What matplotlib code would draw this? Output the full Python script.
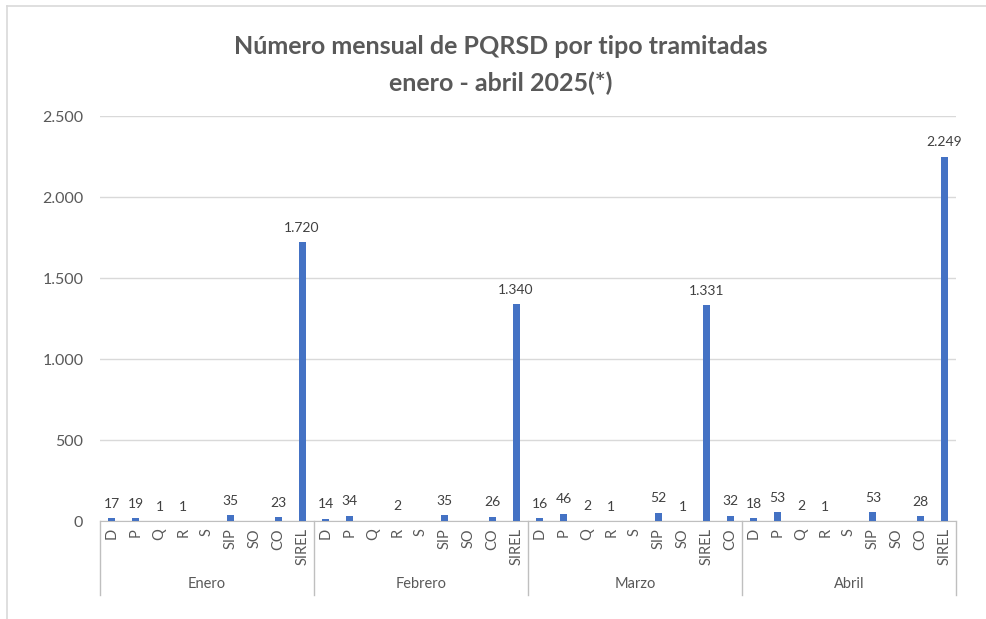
import matplotlib.pyplot as plt
from matplotlib.lines import Line2D
import numpy as np

# Datos (enero - abril 2025)
meses = ['Enero', 'Febrero', 'Marzo', 'Abril']
tipos_enero = ['D', 'P', 'Q', 'R', 'S', 'SIP', 'SO', 'CO', 'SIREL']
tipos_febrero = ['D', 'P', 'Q', 'R', 'S', 'SIP', 'SO', 'CO', 'SIREL']
tipos_marzo = ['D', 'P', 'Q', 'R', 'S', 'SIP', 'SO', 'SIREL', 'CO']
tipos_abril = ['D', 'P', 'Q', 'R', 'S', 'SIP', 'SO', 'CO', 'SIREL']
enero = [17, 19, 1, 1, 0, 35, 0, 23, 1720]
febrero = [14, 34, 0, 2, 0, 35, 0, 26, 1340]
marzo = [16, 46, 2, 1, 0, 52, 1, 1331, 32]
abril = [18, 53, 2, 1, 0, 53, 0, 28, 2249]

plt.rcParams['font.family'] = ['Lato', 'DejaVu Sans']

tipos = tipos_enero + tipos_febrero + tipos_marzo + tipos_abril
valores = enero + febrero + marzo + abril
grupos = [len(tipos_enero), len(tipos_febrero), len(tipos_marzo), len(tipos_abril)]
x = np.arange(len(tipos))

gris = '#595959'
linea = '#d9d9d9'

fig = plt.figure(figsize=(9.87, 6.19), dpi=100)
ax = fig.add_axes([0.1013, 0.1583, 0.8673, 0.6543])

ax.bar(x, valores, width=0.3, color='#4472C4', zorder=3)

# Etiquetas de datos (sin etiqueta para los ceros)
for xi, v in zip(x, valores):
    if v > 0:
        ax.annotate(f'{v:,}'.replace(',', '.'), (xi, v), xytext=(0, 6),
                    textcoords='offset points', ha='center', va='bottom',
                    fontsize=10, color='#404040')

ax.set_ylim(0, 2500)
ax.set_xlim(-0.5, len(tipos) - 0.5)
ax.set_yticks(range(0, 2501, 500))
ax.set_yticklabels([f'{t:,}'.replace(',', '.') for t in range(0, 2501, 500)])
ax.set_xticks(x)
ax.set_xticklabels(tipos, rotation=90)
ax.tick_params(axis='x', length=0, pad=5, labelsize=10.5, labelcolor=gris)
ax.tick_params(axis='y', length=0, pad=12, labelsize=11.5, labelcolor=gris)

ax.grid(axis='y', color=linea, linewidth=1, zorder=0)
for s in ['top', 'right', 'left']:
    ax.spines[s].set_visible(False)
ax.spines['bottom'].set_color('#bfbfbf')

# Separadores y nombres de mes
trans = ax.get_xaxis_transform()
inicio = 0
bordes = [-0.5]
for mes, n in zip(meses, grupos):
    centro = inicio + (n - 1) / 2
    ax.text(centro, -0.155, mes, transform=trans, ha='center', va='center',
            fontsize=10.5, color=gris)
    inicio += n
    bordes.append(inicio - 0.5)
for b in bordes:
    ax.plot([b, b], [0, -0.183], transform=trans, color='#bfbfbf',
            linewidth=1, clip_on=False)

fig.text(0.507, 0.925, 'Número mensual de PQRSD por tipo tramitadas',
         ha='center', va='center', fontsize=18, fontweight='bold', color=gris)
fig.text(0.507, 0.866, 'enero - abril 2025(*)',
         ha='center', va='center', fontsize=18, fontweight='bold', color=gris)

# Marco del gráfico
fig.add_artist(Line2D([0.007, 0.007], [0.0, 0.99], color='#d9d9d9', linewidth=1.2))
fig.add_artist(Line2D([0.007, 1.0], [0.99, 0.99], color='#d9d9d9', linewidth=1.2))

fig.savefig('out.png', dpi=100)
